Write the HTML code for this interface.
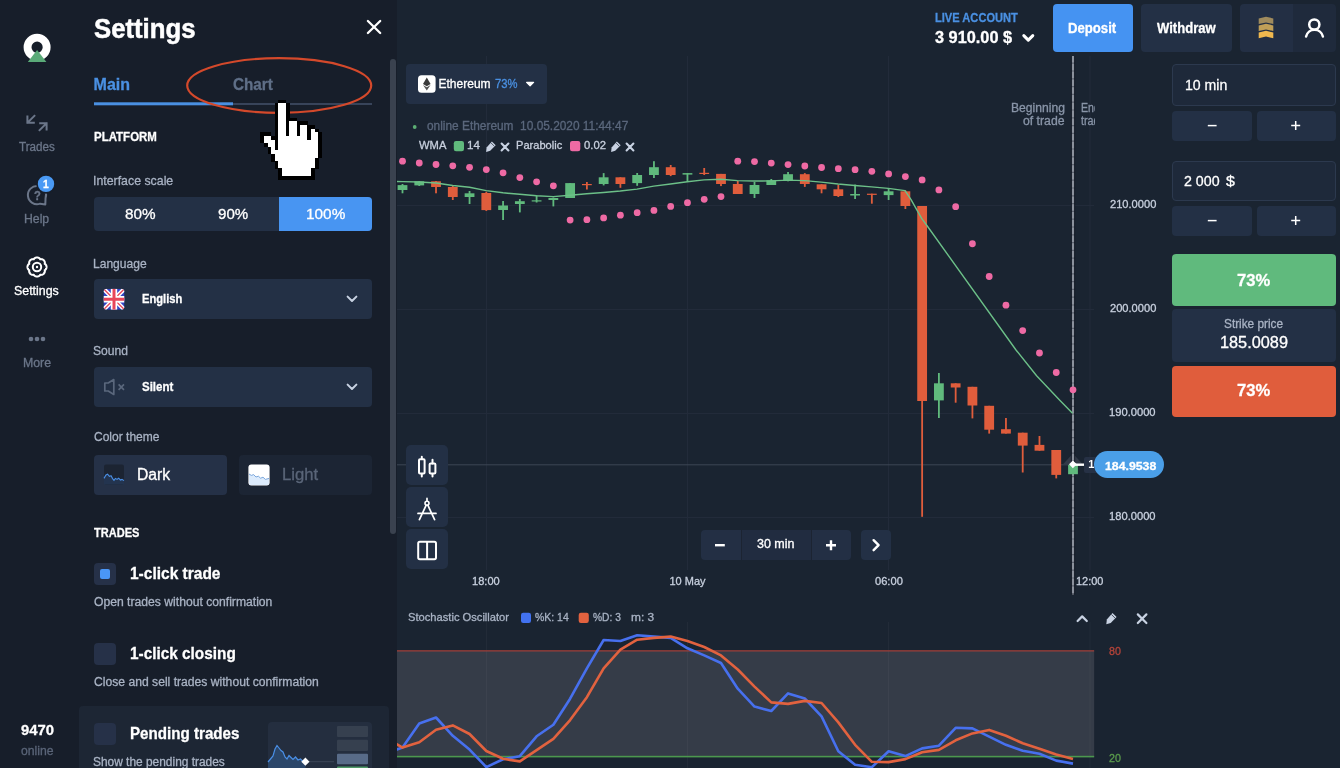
<!DOCTYPE html>
<html lang="en">
<head>
<meta charset="utf-8">
<title>Settings</title>
<style>
*{box-sizing:border-box;margin:0;padding:0}
html,body{width:1340px;height:768px;overflow:hidden;background:#1a2431}
body{position:relative;font-family:"Liberation Sans",sans-serif;color:#fff}
.abs{position:absolute}
.b{position:absolute;background:#233045;border-radius:4px}
.t{position:absolute;white-space:nowrap;line-height:1;transform-origin:0 0;display:inline-block;-webkit-text-stroke:.3px currentColor}
#side{left:0;top:0;width:396.5px;height:768px;background:#171e2a}
.inp{position:absolute;border:1px solid #2c394e;border-radius:4px;background:#1e293a}
.cb{position:absolute;width:22px;height:22px;border-radius:4px;background:#263148}
svg{overflow:visible}
</style>
</head>
<body>
<svg class="abs" style="left:0;top:0" width="1340" height="768" viewBox="0 0 1340 768">
<defs><clipPath id="cp"><rect x="396.5" y="56" width="698" height="712"/></clipPath></defs>
<g clip-path="url(#cp)">
<rect x="396" y="651" width="698.3" height="106" fill="#353c48"/>
<rect x="486.0" y="56" width="1" height="514" fill="#222b3a"/>
<rect x="486.0" y="622" width="1" height="146" fill="#fff" opacity=".035"/>
<rect x="687.0" y="56" width="1" height="514" fill="#222b3a"/>
<rect x="687.0" y="622" width="1" height="146" fill="#fff" opacity=".035"/>
<rect x="888.0" y="56" width="1" height="514" fill="#222b3a"/>
<rect x="888.0" y="622" width="1" height="146" fill="#fff" opacity=".035"/>
<rect x="1089.5" y="56" width="1" height="514" fill="#222b3a"/>
<rect x="1089.5" y="622" width="1" height="146" fill="#fff" opacity=".035"/>
<rect x="396" y="205.0" width="698" height="1" fill="#222b3a"/>
<rect x="396" y="309.0" width="698" height="1" fill="#222b3a"/>
<rect x="396" y="413.0" width="698" height="1" fill="#222b3a"/>
<rect x="396" y="517.0" width="698" height="1" fill="#222b3a"/>
<rect x="396" y="464.3" width="698" height="1" fill="#3d4655"/>
<rect x="396" y="650.2" width="698.3" height="1.3" fill="#9c3f3a"/>
<rect x="396" y="755.8" width="698.3" height="1.6" fill="#4c984e"/>
</g>
<path d="M1062.6 464.8L1072.9 453.6L1083.2 464.8Z" fill="#323a48"/>
<rect x="1070.8" y="56" width="4.4" height="538.5" fill="#151b27" opacity=".75"/>
<rect x="1072" y="56" width="2" height="538.5" fill="#5d636f"/>
<line x1="1073" y1="56" x2="1073" y2="594.5" stroke="#8b919c" stroke-width="2.1" stroke-dasharray="6.6 1.2"/>
<g clip-path="url(#cp)">
<rect x="401.6" y="184" width="1.8" height="9.3" fill="#60ba7d"/>
<rect x="397.6" y="185.1" width="9.8" height="4.9" fill="#60ba7d"/>
<rect x="418.36" y="181" width="1.8" height="5" fill="#60ba7d"/>
<rect x="414.36" y="181.3" width="9.8" height="4.1" fill="#60ba7d"/>
<rect x="435.12" y="181" width="1.8" height="12.3" fill="#e05d3c"/>
<rect x="431.12" y="181.3" width="9.8" height="5.7" fill="#e05d3c"/>
<rect x="451.89" y="186" width="1.8" height="14" fill="#e05d3c"/>
<rect x="447.89" y="187" width="9.8" height="10" fill="#e05d3c"/>
<rect x="468.65" y="191" width="1.8" height="13" fill="#60ba7d"/>
<rect x="464.65" y="193.3" width="9.8" height="3.7" fill="#60ba7d"/>
<rect x="485.41" y="191.8" width="1.8" height="19.1" fill="#e05d3c"/>
<rect x="481.41" y="193" width="9.8" height="17.1" fill="#e05d3c"/>
<rect x="502.18" y="201" width="1.8" height="19" fill="#60ba7d"/>
<rect x="498.18" y="205.5" width="9.8" height="4.5" fill="#60ba7d"/>
<rect x="518.94" y="199" width="1.8" height="13.4" fill="#60ba7d"/>
<rect x="514.94" y="201.2" width="9.8" height="2.8" fill="#60ba7d"/>
<rect x="535.7" y="195.5" width="1.8" height="7" fill="#60ba7d"/>
<rect x="531.7" y="200.3" width="9.8" height="1.2" fill="#60ba7d"/>
<rect x="552.46" y="197.5" width="1.8" height="8.9" fill="#60ba7d"/>
<rect x="548.46" y="198" width="9.8" height="2" fill="#60ba7d"/>
<rect x="569.23" y="183.1" width="1.8" height="14.9" fill="#60ba7d"/>
<rect x="565.23" y="183.1" width="9.8" height="14.9" fill="#60ba7d"/>
<rect x="585.99" y="182" width="1.8" height="7.5" fill="#e05d3c"/>
<rect x="581.99" y="184" width="9.8" height="1.2" fill="#e05d3c"/>
<rect x="602.75" y="173.1" width="1.8" height="12.3" fill="#60ba7d"/>
<rect x="598.75" y="177.3" width="9.8" height="6.7" fill="#60ba7d"/>
<rect x="619.51" y="177.3" width="1.8" height="10.5" fill="#e05d3c"/>
<rect x="615.51" y="177.3" width="9.8" height="6.7" fill="#e05d3c"/>
<rect x="636.27" y="173" width="1.8" height="12.8" fill="#60ba7d"/>
<rect x="632.27" y="175" width="9.8" height="8.1" fill="#60ba7d"/>
<rect x="653.04" y="161.2" width="1.8" height="16.8" fill="#60ba7d"/>
<rect x="649.04" y="167.2" width="9.8" height="7.8" fill="#60ba7d"/>
<rect x="669.8" y="165" width="1.8" height="11.1" fill="#e05d3c"/>
<rect x="665.8" y="167.2" width="9.8" height="7.8" fill="#e05d3c"/>
<rect x="686.56" y="173.1" width="1.8" height="7.9" fill="#60ba7d"/>
<rect x="682.56" y="173.1" width="9.8" height="1.5" fill="#60ba7d"/>
<rect x="703.32" y="168" width="1.8" height="7" fill="#e05d3c"/>
<rect x="699.32" y="172.8" width="9.8" height="1.2" fill="#e05d3c"/>
<rect x="720.09" y="173.9" width="1.8" height="12.2" fill="#e05d3c"/>
<rect x="716.09" y="173.9" width="9.8" height="10.1" fill="#e05d3c"/>
<rect x="736.85" y="181" width="1.8" height="13" fill="#e05d3c"/>
<rect x="732.85" y="184" width="9.8" height="10" fill="#e05d3c"/>
<rect x="753.61" y="182" width="1.8" height="16" fill="#60ba7d"/>
<rect x="749.61" y="185" width="9.8" height="9" fill="#60ba7d"/>
<rect x="770.38" y="179" width="1.8" height="6" fill="#60ba7d"/>
<rect x="766.38" y="180.3" width="9.8" height="4.7" fill="#60ba7d"/>
<rect x="787.14" y="172" width="1.8" height="9.3" fill="#60ba7d"/>
<rect x="783.14" y="174.2" width="9.8" height="6.8" fill="#60ba7d"/>
<rect x="803.9" y="173.1" width="1.8" height="13.8" fill="#e05d3c"/>
<rect x="799.9" y="174.2" width="9.8" height="9.8" fill="#e05d3c"/>
<rect x="820.66" y="184.3" width="1.8" height="9" fill="#e05d3c"/>
<rect x="816.66" y="184.3" width="9.8" height="5" fill="#e05d3c"/>
<rect x="837.43" y="184.8" width="1.8" height="12.2" fill="#e05d3c"/>
<rect x="833.43" y="189.3" width="9.8" height="6.7" fill="#e05d3c"/>
<rect x="854.19" y="184.6" width="1.8" height="14.4" fill="#60ba7d"/>
<rect x="850.19" y="194" width="9.8" height="1.5" fill="#60ba7d"/>
<rect x="870.95" y="193.7" width="1.8" height="10" fill="#e05d3c"/>
<rect x="866.95" y="193.7" width="9.8" height="1.2" fill="#e05d3c"/>
<rect x="887.71" y="188.5" width="1.8" height="11.5" fill="#60ba7d"/>
<rect x="883.71" y="191.3" width="9.8" height="3.8" fill="#60ba7d"/>
<rect x="904.48" y="190.3" width="1.8" height="18.7" fill="#e05d3c"/>
<rect x="900.48" y="191.3" width="9.8" height="14.7" fill="#e05d3c"/>
<rect x="921.24" y="206" width="1.8" height="310.8" fill="#e05d3c"/>
<rect x="917.24" y="206" width="9.8" height="195" fill="#e05d3c"/>
<rect x="938" y="373" width="1.8" height="45" fill="#60ba7d"/>
<rect x="934" y="383.3" width="9.8" height="17.1" fill="#60ba7d"/>
<rect x="954.76" y="383.3" width="1.8" height="19.4" fill="#e05d3c"/>
<rect x="950.76" y="383.3" width="9.8" height="4.2" fill="#e05d3c"/>
<rect x="971.52" y="386.8" width="1.8" height="31.6" fill="#e05d3c"/>
<rect x="967.52" y="386.8" width="9.8" height="18.7" fill="#e05d3c"/>
<rect x="988.29" y="405.8" width="1.8" height="27.8" fill="#e05d3c"/>
<rect x="984.29" y="405.8" width="9.8" height="23.9" fill="#e05d3c"/>
<rect x="1005.05" y="418" width="1.8" height="15.6" fill="#e05d3c"/>
<rect x="1001.05" y="429.2" width="9.8" height="4.4" fill="#e05d3c"/>
<rect x="1021.81" y="432.7" width="1.8" height="39.8" fill="#e05d3c"/>
<rect x="1017.81" y="432.7" width="9.8" height="12.9" fill="#e05d3c"/>
<rect x="1038.57" y="436" width="1.8" height="14.7" fill="#e05d3c"/>
<rect x="1034.57" y="444.9" width="9.8" height="5.8" fill="#e05d3c"/>
<rect x="1055.34" y="450" width="1.8" height="28.4" fill="#e05d3c"/>
<rect x="1051.34" y="450" width="9.8" height="24.9" fill="#e05d3c"/>
<rect x="1072.1" y="464.8" width="1.8" height="9.4" fill="#60ba7d"/>
<rect x="1068.1" y="464.8" width="9.8" height="9.4" fill="#60ba7d"/>
<polyline points="396,181.5 402.5,181.6 419.25,182 436,183 452.75,185.5 469.5,187.3 486.25,190.6 503,192.8 519.75,194.3 536.5,195.8 553.25,196.6 570,195.2 586.75,193.7 603.5,192.5 620.25,191 637,189.1 653.75,186.1 670.5,184 687.25,181.8 704,179.9 720.75,179.3 737.5,180.6 754.25,181 771,180.9 787.75,180.1 804.5,180.6 821.25,182.1 838,184 854.75,185.5 871.5,186.9 888.25,188.4 905,190.6 910.9,199.3 921.8,218.7 927.25,226 1016,350 1036.6,375.8 1060,400.4 1072.5,413.3" fill="none" stroke="#6cc088" stroke-width="1.4" stroke-linejoin="round"/>
<circle cx="402.5" cy="161.2" r="3.4" fill="#ee6aa4"/>
<circle cx="419.26" cy="163" r="3.4" fill="#ee6aa4"/>
<circle cx="436.02" cy="164.5" r="3.4" fill="#ee6aa4"/>
<circle cx="452.79" cy="165.8" r="3.4" fill="#ee6aa4"/>
<circle cx="469.55" cy="167.3" r="3.4" fill="#ee6aa4"/>
<circle cx="486.31" cy="169.6" r="3.4" fill="#ee6aa4"/>
<circle cx="503.07" cy="172.8" r="3.4" fill="#ee6aa4"/>
<circle cx="519.84" cy="177.6" r="3.4" fill="#ee6aa4"/>
<circle cx="536.6" cy="181.8" r="3.4" fill="#ee6aa4"/>
<circle cx="553.36" cy="185.8" r="3.4" fill="#ee6aa4"/>
<circle cx="570.12" cy="220.1" r="3.4" fill="#ee6aa4"/>
<circle cx="586.89" cy="219.7" r="3.4" fill="#ee6aa4"/>
<circle cx="603.65" cy="217.9" r="3.4" fill="#ee6aa4"/>
<circle cx="620.41" cy="215.2" r="3.4" fill="#ee6aa4"/>
<circle cx="637.17" cy="212.7" r="3.4" fill="#ee6aa4"/>
<circle cx="653.94" cy="210.4" r="3.4" fill="#ee6aa4"/>
<circle cx="670.7" cy="206.4" r="3.4" fill="#ee6aa4"/>
<circle cx="687.46" cy="202.7" r="3.4" fill="#ee6aa4"/>
<circle cx="704.22" cy="199.3" r="3.4" fill="#ee6aa4"/>
<circle cx="720.99" cy="196.6" r="3.4" fill="#ee6aa4"/>
<circle cx="737.75" cy="161.2" r="3.4" fill="#ee6aa4"/>
<circle cx="754.51" cy="161.6" r="3.4" fill="#ee6aa4"/>
<circle cx="771.27" cy="163.1" r="3.4" fill="#ee6aa4"/>
<circle cx="788.04" cy="164.6" r="3.4" fill="#ee6aa4"/>
<circle cx="804.8" cy="166" r="3.4" fill="#ee6aa4"/>
<circle cx="821.56" cy="167.5" r="3.4" fill="#ee6aa4"/>
<circle cx="838.33" cy="168.7" r="3.4" fill="#ee6aa4"/>
<circle cx="855.09" cy="169.7" r="3.4" fill="#ee6aa4"/>
<circle cx="871.85" cy="171.3" r="3.4" fill="#ee6aa4"/>
<circle cx="888.61" cy="173.9" r="3.4" fill="#ee6aa4"/>
<circle cx="905.38" cy="176.6" r="3.4" fill="#ee6aa4"/>
<circle cx="922.14" cy="179.9" r="3.4" fill="#ee6aa4"/>
<circle cx="938.9" cy="189.9" r="3.4" fill="#ee6aa4"/>
<circle cx="955.66" cy="206.7" r="3.4" fill="#ee6aa4"/>
<circle cx="972.42" cy="243.75" r="3.4" fill="#ee6aa4"/>
<circle cx="989.19" cy="276.5" r="3.4" fill="#ee6aa4"/>
<circle cx="1005.95" cy="305.2" r="3.4" fill="#ee6aa4"/>
<circle cx="1022.71" cy="330.6" r="3.4" fill="#ee6aa4"/>
<circle cx="1039.47" cy="353" r="3.4" fill="#ee6aa4"/>
<circle cx="1056.24" cy="372.5" r="3.4" fill="#ee6aa4"/>
<circle cx="1073" cy="389.8" r="3.4" fill="#ee6aa4"/>
<polyline points="390,752 402.5,747.6 419.26,723.5 436.02,717.5 452.79,735.8 469.55,749.6 486.31,767.1 503.07,759.3 519.84,756.2 536.6,736.3 553.36,724.8 570.12,698.7 586.89,668.4 603.65,640 620.41,641 637.17,635.3 653.94,636.6 670.7,637.9 687.46,648.3 704.22,655.4 720.99,663 737.75,688.7 754.51,706.6 771.27,711 788.04,693.4 804.8,698.5 821.56,716.4 838.33,751.3 855.09,764.8 871.85,767.2 888.61,751.3 905.38,756.1 922.14,748.4 938.9,745.7 955.66,727.8 972.42,728.4 989.19,736.7 1005.95,744.8 1022.71,750.7 1039.47,753.7 1056.24,760.6 1073,763.6" fill="none" stroke="#4770ee" stroke-width="2.6" stroke-linejoin="round"/>
<polyline points="390,740 402.5,747.6 419.26,742.3 436.02,729.8 452.79,725.4 469.55,734 486.31,751 503.07,758.8 519.84,761.4 536.6,750.2 553.36,738.9 570.12,720.1 586.89,697.2 603.65,668.4 620.41,649.6 637.17,639.7 653.94,637.9 670.7,636.6 687.46,641 704.22,647 720.99,655.4 737.75,669.5 754.51,686.6 771.27,702.4 788.04,703.9 804.8,700.9 821.56,703 838.33,722.4 855.09,744.8 871.85,761.8 888.61,762.1 905.38,759.1 922.14,752.2 938.9,749.9 955.66,740.3 972.42,733.4 989.19,729.9 1005.95,735.8 1022.71,743.3 1039.47,748.7 1056.24,754.6 1073,759.1" fill="none" stroke="#e2623f" stroke-width="2.6" stroke-linejoin="round"/>
</g>
<rect x="1073" y="463.5" width="11" height="2.4" fill="#fff"/>
<path d="M1072.9 460.4L1076.8 464.3L1072.9 468.2L1069 464.3Z" fill="#fff"/>
</svg>

<!-- left sidebar + settings panel background -->
<div class="abs" id="side"></div>
<div class="abs" style="left:390px;top:59px;width:6px;height:475px;border-radius:3px;background:#3a424f"></div>
<div class="abs" style="left:78.5px;top:705.5px;width:310px;height:70px;background:#1d2634;border-radius:4px 4px 0 0"></div>

<!-- sidebar + panel icons -->
<svg class="abs" style="left:0;top:0" width="400" height="768" viewBox="0 0 400 768" fill="none">
  <!-- logo -->
  <circle cx="37.1" cy="47.2" r="9.55" stroke="#fff" stroke-width="7.9"/>
  <path d="M37.1 50.1L46.4 62.1H27.8Z" fill="#5aaa78"/>
  <!-- trades arrows -->
  <g stroke="#6b7689" stroke-width="2" stroke-linecap="square">
    <path d="M34.4 115.8L27.6 122.6M27.4 116.4V122.8H33.8"/>
    <path d="M39.6 130.2L46.4 123.4M40.2 123.2H46.6V129.6"/>
  </g>
  <!-- help bubble -->
  <path d="M45.55 198.2L45.3 204.5L40.1 203.65A9.1 9.1 0 1 1 45.55 198.2Z" stroke="#6b7689" stroke-width="2" stroke-linejoin="round"/>
  <circle cx="46" cy="183.9" r="9.8" fill="#171e2a"/>
  <circle cx="46" cy="183.9" r="8.2" fill="#4a9af5"/>
  <!-- gear -->
  <g stroke="#fff" stroke-width="2">
    <path d="M37 257.45L37.37 257.47L37.75 257.52L38.11 257.61L38.47 257.74L38.81 257.9L39.14 258.09L39.45 258.32L39.73 258.58L39.99 258.89L40.18 259.33L40.62 259.15L41.02 259.12L41.41 259.13L41.79 259.19L42.16 259.28L42.51 259.41L42.85 259.58L43.17 259.77L43.48 260L43.75 260.25L44 260.52L44.23 260.83L44.42 261.15L44.59 261.49L44.72 261.84L44.81 262.21L44.87 262.59L44.88 262.98L44.85 263.38L44.67 263.82L45.11 264.01L45.42 264.27L45.68 264.55L45.91 264.86L46.1 265.19L46.26 265.53L46.39 265.89L46.48 266.25L46.53 266.63L46.55 267L46.53 267.37L46.48 267.75L46.39 268.11L46.26 268.47L46.1 268.81L45.91 269.14L45.68 269.45L45.42 269.73L45.11 269.99L44.67 270.18L44.85 270.62L44.88 271.02L44.87 271.41L44.81 271.79L44.72 272.16L44.59 272.51L44.42 272.85L44.23 273.17L44 273.48L43.75 273.75L43.48 274L43.17 274.23L42.85 274.42L42.51 274.59L42.16 274.72L41.79 274.81L41.41 274.87L41.02 274.88L40.62 274.85L40.18 274.67L39.99 275.11L39.73 275.42L39.45 275.68L39.14 275.91L38.81 276.1L38.47 276.26L38.11 276.39L37.75 276.48L37.37 276.53L37 276.55L36.63 276.53L36.25 276.48L35.89 276.39L35.53 276.26L35.19 276.1L34.86 275.91L34.55 275.68L34.27 275.42L34.01 275.11L33.82 274.67L33.38 274.85L32.98 274.88L32.59 274.87L32.21 274.81L31.84 274.72L31.49 274.59L31.15 274.42L30.83 274.23L30.52 274L30.25 273.75L30 273.48L29.77 273.17L29.58 272.85L29.41 272.51L29.28 272.16L29.19 271.79L29.13 271.41L29.12 271.02L29.15 270.62L29.33 270.18L28.89 269.99L28.58 269.73L28.32 269.45L28.09 269.14L27.9 268.81L27.74 268.47L27.61 268.11L27.52 267.75L27.47 267.37L27.45 267L27.47 266.63L27.52 266.25L27.61 265.89L27.74 265.53L27.9 265.19L28.09 264.86L28.32 264.55L28.58 264.27L28.89 264.01L29.33 263.82L29.15 263.38L29.12 262.98L29.13 262.59L29.19 262.21L29.28 261.84L29.41 261.49L29.58 261.15L29.77 260.83L30 260.52L30.25 260.25L30.52 260L30.83 259.77L31.15 259.58L31.49 259.41L31.84 259.28L32.21 259.19L32.59 259.13L32.98 259.12L33.38 259.15L33.82 259.33L34.01 258.89L34.27 258.58L34.55 258.32L34.86 258.09L35.19 257.9L35.53 257.74L35.89 257.61L36.25 257.52L36.63 257.47Z" stroke-linejoin="round"/>
    <circle cx="37" cy="267" r="4.2"/>
  </g>
  <circle cx="37" cy="267" r="1.2" fill="#fff"/>
  <!-- more -->
  <g fill="#6b7689"><circle cx="31" cy="339" r="2.3"/><circle cx="37" cy="339" r="2.3"/><circle cx="43" cy="339" r="2.3"/></g>
  <!-- close X -->
  <path d="M367.9 21L380.2 33M380.2 21L367.9 33" stroke="#fff" stroke-width="2.3" stroke-linecap="round"/>
  <!-- tabs underline -->
  <rect x="94" y="103" width="278" height="2" fill="#38445a"/>
  <rect x="94" y="102.3" width="139" height="3" fill="#4a90e2"/>
  <!-- highlight ellipse -->
  <ellipse cx="279.2" cy="85.5" rx="92" ry="27.3" stroke="#d4492b" stroke-width="2.2"/>
</svg>


<!-- interface scale -->
<div class="b" style="left:94px;top:197px;width:278px;height:34px"></div>
<div class="abs" style="left:279px;top:197px;width:93px;height:34px;background:#4895f2;border-radius:0 4px 4px 0"></div>

<!-- language / sound dropdowns -->
<div class="b" style="left:94px;top:279px;width:278px;height:40px"></div>
<div class="b" style="left:94px;top:367px;width:278px;height:40px"></div>
<svg class="abs" style="left:0;top:0" width="400" height="768" viewBox="0 0 400 768" fill="none">
  <!-- UK flag -->
  <defs><clipPath id="fl"><rect x="103.5" y="288.7" width="21" height="21" rx="3.5"/></clipPath></defs>
  <g clip-path="url(#fl)">
    <rect x="103.5" y="288.7" width="21" height="21" fill="#3346c8"/>
    <path d="M103.5 288.7L124.5 309.7M124.5 288.7L103.5 309.7" stroke="#fff" stroke-width="4.2"/>
    <path d="M103.5 288.7L124.5 309.7M124.5 288.7L103.5 309.7" stroke="#e8465a" stroke-width="1.3"/>
    <path d="M114 288.7V309.7M103.5 299.2H124.5" stroke="#fff" stroke-width="6.4"/>
    <path d="M114 288.7V309.7M103.5 299.2H124.5" stroke="#e8465a" stroke-width="3"/>
  </g>
  <!-- chevrons -->
  <path d="M347.6 296.6L352 301L356.4 296.6" stroke="#c8d2e2" stroke-width="2" stroke-linecap="round" stroke-linejoin="round"/>
  <path d="M347.6 384.6L352 389L356.4 384.6" stroke="#c8d2e2" stroke-width="2" stroke-linecap="round" stroke-linejoin="round"/>
  <!-- speaker muted -->
  <path d="M104.8 383H108.2L113.8 379.6V394.4L108.2 391H104.8Z" stroke="#5a677c" stroke-width="1.7" stroke-linejoin="round"/>
  <path d="M118.6 384.4L124 389.8M124 384.4L118.6 389.8" stroke="#5a677c" stroke-width="1.7"/>
</svg>

<!-- colour theme -->
<div class="b" style="left:94px;top:455px;width:133px;height:40px;background:#253147"></div>
<div class="b" style="left:239px;top:455px;width:133px;height:40px;background:#1c2534"></div>
<svg class="abs" style="left:0;top:0" width="400" height="768" viewBox="0 0 400 768" fill="none">
  <rect x="104" y="464.6" width="20" height="20" rx="2" fill="#1c2432"/>
  <path d="M104 478.4L106 475L107.6 474.2L109.4 476.4L111 475.8L112.6 478.6L114 480.4L115.4 478.4L117 479.4L118.6 478.2L120.4 480L122 479.4L124 480.6V484.6H104Z" fill="#23344f"/>
  <path d="M104 478.4L106 475L107.6 474.2L109.4 476.4L111 475.8L112.6 478.6L114 480.4L115.4 478.4L117 479.4L118.6 478.2L120.4 480L122 479.4L124 480.6" stroke="#4a8fe6" stroke-width="1.1"/>
  <rect x="248.4" y="464.4" width="21.2" height="21.2" rx="3" fill="#fff"/>
  <path d="M249 474L251.4 475.4L253.6 474.6L256 477L258.4 476.2L260.6 478.2L263 477.2L265.4 479.4L269 478.4V483a2 2 0 0 1 -2 2H251a2 2 0 0 1 -2 -2Z" fill="#dcebfc"/>
  <path d="M249 474L251.4 475.4L253.6 474.6L256 477L258.4 476.2L260.6 478.2L263 477.2L265.4 479.4L269 478.4" stroke="#6e9ed8" stroke-width=".9"/>
</svg>

<!-- checkboxes -->
<div class="cb" style="left:94px;top:563px"></div>
<div class="abs" style="left:100px;top:569px;width:10.4px;height:10.4px;border-radius:2px;background:#4a96f5"></div>
<div class="cb" style="left:94px;top:643px"></div>
<div class="cb" style="left:94px;top:723px"></div>

<!-- pending preview -->
<div class="abs" style="left:268px;top:722px;width:104px;height:50px;background:#242e3f;border-radius:4px 4px 0 0"></div>
<svg class="abs" style="left:0;top:0" width="400" height="768" viewBox="0 0 400 768" fill="none">
  <rect x="337" y="726" width="31" height="11" rx="1" fill="#36404f"/>
  <rect x="337" y="739.7" width="31" height="11.3" rx="1" fill="#36404f"/>
  <rect x="337" y="753.8" width="31" height="10.4" rx="1" fill="#586b88"/>
  <rect x="337" y="766.4" width="31" height="6" rx="1" fill="#4f9a68"/>
  <rect x="268" y="761.2" width="66" height="1" fill="#3c4658"/>
  <path d="M268 762L270.5 759L273 756L275 749L277 745.5L279 748L281 750.5L283 752L285 757L287 759L289 755.5L291 757.5L293 759.5L295.5 757L298 760L300.5 759L303 761.5L305.5 761.7V768H268Z" fill="#2b4669"/>
  <path d="M268 762L270.5 759L273 756L275 749L277 745.5L279 748L281 750.5L283 752L285 757L287 759L289 755.5L291 757.5L293 759.5L295.5 757L298 760L300.5 759L303 761.5L305.5 761.7" stroke="#4a8fe6" stroke-width="1.2"/>
  <path d="M305.4 757.6L309.5 761.7L305.4 765.8L301.3 761.7Z" fill="#fff"/>
</svg>

<svg class="abs" style="left:0;top:0" width="400" height="200" viewBox="0 0 400 200" shape-rendering="crispEdges">
<rect x="278.4" y="99.7" width="7.54" height="3.92" fill="#000"/>
<rect x="274.78" y="103.32" width="3.92" height="3.92" fill="#000"/>
<rect x="278.4" y="103.32" width="7.54" height="3.92" fill="#fff"/>
<rect x="285.64" y="103.32" width="3.92" height="3.92" fill="#000"/>
<rect x="274.78" y="106.94" width="3.92" height="3.92" fill="#000"/>
<rect x="278.4" y="106.94" width="7.54" height="3.92" fill="#fff"/>
<rect x="285.64" y="106.94" width="3.92" height="3.92" fill="#000"/>
<rect x="274.78" y="110.56" width="3.92" height="3.92" fill="#000"/>
<rect x="278.4" y="110.56" width="7.54" height="3.92" fill="#fff"/>
<rect x="285.64" y="110.56" width="3.92" height="3.92" fill="#000"/>
<rect x="274.78" y="114.18" width="3.92" height="3.92" fill="#000"/>
<rect x="278.4" y="114.18" width="7.54" height="3.92" fill="#fff"/>
<rect x="285.64" y="114.18" width="3.92" height="3.92" fill="#000"/>
<rect x="274.78" y="117.8" width="3.92" height="3.92" fill="#000"/>
<rect x="278.4" y="117.8" width="7.54" height="3.92" fill="#fff"/>
<rect x="285.64" y="117.8" width="11.16" height="3.92" fill="#000"/>
<rect x="274.78" y="121.42" width="3.92" height="3.92" fill="#000"/>
<rect x="278.4" y="121.42" width="7.54" height="3.92" fill="#fff"/>
<rect x="285.64" y="121.42" width="3.92" height="3.92" fill="#000"/>
<rect x="289.26" y="121.42" width="7.54" height="3.92" fill="#fff"/>
<rect x="296.5" y="121.42" width="11.16" height="3.92" fill="#000"/>
<rect x="274.78" y="125.04" width="3.92" height="3.92" fill="#000"/>
<rect x="278.4" y="125.04" width="7.54" height="3.92" fill="#fff"/>
<rect x="285.64" y="125.04" width="3.92" height="3.92" fill="#000"/>
<rect x="289.26" y="125.04" width="7.54" height="3.92" fill="#fff"/>
<rect x="296.5" y="125.04" width="3.92" height="3.92" fill="#000"/>
<rect x="300.12" y="125.04" width="7.54" height="3.92" fill="#fff"/>
<rect x="307.36" y="125.04" width="7.54" height="3.92" fill="#000"/>
<rect x="274.78" y="128.66" width="3.92" height="3.92" fill="#000"/>
<rect x="278.4" y="128.66" width="7.54" height="3.92" fill="#fff"/>
<rect x="285.64" y="128.66" width="3.92" height="3.92" fill="#000"/>
<rect x="289.26" y="128.66" width="7.54" height="3.92" fill="#fff"/>
<rect x="296.5" y="128.66" width="3.92" height="3.92" fill="#000"/>
<rect x="300.12" y="128.66" width="7.54" height="3.92" fill="#fff"/>
<rect x="307.36" y="128.66" width="3.92" height="3.92" fill="#000"/>
<rect x="310.98" y="128.66" width="3.92" height="3.92" fill="#fff"/>
<rect x="314.6" y="128.66" width="3.92" height="3.92" fill="#000"/>
<rect x="260.3" y="132.28" width="11.16" height="3.92" fill="#000"/>
<rect x="274.78" y="132.28" width="3.92" height="3.92" fill="#000"/>
<rect x="278.4" y="132.28" width="7.54" height="3.92" fill="#fff"/>
<rect x="285.64" y="132.28" width="3.92" height="3.92" fill="#000"/>
<rect x="289.26" y="132.28" width="7.54" height="3.92" fill="#fff"/>
<rect x="296.5" y="132.28" width="3.92" height="3.92" fill="#000"/>
<rect x="300.12" y="132.28" width="7.54" height="3.92" fill="#fff"/>
<rect x="307.36" y="132.28" width="3.92" height="3.92" fill="#000"/>
<rect x="310.98" y="132.28" width="7.54" height="3.92" fill="#fff"/>
<rect x="318.22" y="132.28" width="3.92" height="3.92" fill="#000"/>
<rect x="260.3" y="135.9" width="3.92" height="3.92" fill="#000"/>
<rect x="263.92" y="135.9" width="7.54" height="3.92" fill="#fff"/>
<rect x="271.16" y="135.9" width="7.54" height="3.92" fill="#000"/>
<rect x="278.4" y="135.9" width="29.26" height="3.92" fill="#fff"/>
<rect x="307.36" y="135.9" width="3.92" height="3.92" fill="#000"/>
<rect x="310.98" y="135.9" width="7.54" height="3.92" fill="#fff"/>
<rect x="318.22" y="135.9" width="3.92" height="3.92" fill="#000"/>
<rect x="260.3" y="139.52" width="3.92" height="3.92" fill="#000"/>
<rect x="263.92" y="139.52" width="11.16" height="3.92" fill="#fff"/>
<rect x="274.78" y="139.52" width="3.92" height="3.92" fill="#000"/>
<rect x="278.4" y="139.52" width="40.12" height="3.92" fill="#fff"/>
<rect x="318.22" y="139.52" width="3.92" height="3.92" fill="#000"/>
<rect x="263.92" y="143.14" width="3.92" height="3.92" fill="#000"/>
<rect x="267.54" y="143.14" width="7.54" height="3.92" fill="#fff"/>
<rect x="274.78" y="143.14" width="3.92" height="3.92" fill="#000"/>
<rect x="278.4" y="143.14" width="40.12" height="3.92" fill="#fff"/>
<rect x="318.22" y="143.14" width="3.92" height="3.92" fill="#000"/>
<rect x="267.54" y="146.76" width="3.92" height="3.92" fill="#000"/>
<rect x="271.16" y="146.76" width="3.92" height="3.92" fill="#fff"/>
<rect x="274.78" y="146.76" width="3.92" height="3.92" fill="#000"/>
<rect x="278.4" y="146.76" width="40.12" height="3.92" fill="#fff"/>
<rect x="318.22" y="146.76" width="3.92" height="3.92" fill="#000"/>
<rect x="267.54" y="150.38" width="3.92" height="3.92" fill="#000"/>
<rect x="271.16" y="150.38" width="47.36" height="3.92" fill="#fff"/>
<rect x="318.22" y="150.38" width="3.92" height="3.92" fill="#000"/>
<rect x="271.16" y="154" width="3.92" height="3.92" fill="#000"/>
<rect x="274.78" y="154" width="43.74" height="3.92" fill="#fff"/>
<rect x="318.22" y="154" width="3.92" height="3.92" fill="#000"/>
<rect x="271.16" y="157.62" width="3.92" height="3.92" fill="#000"/>
<rect x="274.78" y="157.62" width="40.12" height="3.92" fill="#fff"/>
<rect x="314.6" y="157.62" width="3.92" height="3.92" fill="#000"/>
<rect x="274.78" y="161.24" width="3.92" height="3.92" fill="#000"/>
<rect x="278.4" y="161.24" width="36.5" height="3.92" fill="#fff"/>
<rect x="314.6" y="161.24" width="3.92" height="3.92" fill="#000"/>
<rect x="274.78" y="164.86" width="3.92" height="3.92" fill="#000"/>
<rect x="278.4" y="164.86" width="36.5" height="3.92" fill="#fff"/>
<rect x="314.6" y="164.86" width="3.92" height="3.92" fill="#000"/>
<rect x="278.4" y="168.48" width="3.92" height="3.92" fill="#000"/>
<rect x="282.02" y="168.48" width="29.26" height="3.92" fill="#fff"/>
<rect x="310.98" y="168.48" width="3.92" height="3.92" fill="#000"/>
<rect x="278.4" y="172.1" width="3.92" height="3.92" fill="#000"/>
<rect x="282.02" y="172.1" width="29.26" height="3.92" fill="#fff"/>
<rect x="310.98" y="172.1" width="3.92" height="3.92" fill="#000"/>
<rect x="278.4" y="175.72" width="36.5" height="3.92" fill="#000"/>
</svg>

<!-- header -->
<div class="abs" style="left:1053px;top:4px;width:80px;height:48px;border-radius:4px;background:#4593f2"></div>
<div class="b" style="left:1141px;top:4px;width:91px;height:48px"></div>
<div class="abs" style="left:1240px;top:4px;width:53px;height:48px;border-radius:4px 0 0 4px;background:#232f44"></div>
<div class="abs" style="left:1293px;top:4px;width:43px;height:48px;border-radius:0 4px 4px 0;background:#1f2a3c"></div>
<svg class="abs" style="left:900px;top:0" width="440" height="60" viewBox="900 0 440 60" fill="none">
  <path d="M1023.8 35.6L1028.3 40.1L1032.8 35.6" stroke="#fff" stroke-width="3" stroke-linecap="round" stroke-linejoin="round"/>
  <!-- rank chevrons -->
  <path d="M1258.7 18.4L1266 16.7L1273.3 18.4V24.1L1266 22.4L1258.7 24.1Z" fill="#a08b5d"/>
  <path d="M1258.7 25.4L1266 23.7L1273.3 25.4V31.1L1266 29.4L1258.7 31.1Z" fill="#c09f58"/>
  <path d="M1258.7 32.5L1266 30.8L1273.3 32.5V38.2L1266 36.5L1258.7 38.2Z" fill="#f0b84e"/>
  <!-- user -->
  <circle cx="1314.3" cy="24.6" r="5.1" stroke="#fff" stroke-width="2.5"/>
  <path d="M1306.1 36.6A8.6 8.6 0 0 1 1322.9 36.6" stroke="#fff" stroke-width="2.5" stroke-linecap="round"/>
</svg>

<!-- right trade panel -->
<div class="inp" style="left:1172px;top:64px;width:164px;height:42px"></div>
<div class="b" style="left:1172px;top:111px;width:80px;height:30px"></div>
<div class="b" style="left:1257px;top:111px;width:79px;height:30px"></div>
<div class="inp" style="left:1172px;top:161px;width:164px;height:40px"></div>
<div class="b" style="left:1172px;top:206px;width:80px;height:30px"></div>
<div class="b" style="left:1257px;top:206px;width:79px;height:30px"></div>
<div class="abs" style="left:1172px;top:254px;width:164px;height:51.5px;border-radius:4px;background:#60ba7d"></div>
<div class="b" style="left:1172px;top:309.3px;width:164px;height:52.4px"></div>
<div class="abs" style="left:1172px;top:365.6px;width:164px;height:51.7px;border-radius:4px;background:#e05d3c"></div>
<svg class="abs" style="left:1160px;top:100px" width="180" height="150" viewBox="1160 100 180 150" fill="none" stroke="#fff" stroke-width="1.5">
  <path d="M1207.8 125.6H1216.6"/>
  <path d="M1291.2 125.6H1300.2M1295.7 121.1V130.1"/>
  <path d="M1207.8 220.6H1216.6"/>
  <path d="M1291.2 220.6H1300.2M1295.7 216.1V225.1"/>
</svg>

<!-- chart overlays -->
<div class="b" style="left:406px;top:64px;width:141px;height:40px"></div>
<svg class="abs" style="left:396px;top:56px" width="260" height="110" viewBox="396 56 260 110" fill="none">
  <rect x="418" y="75.2" width="17.6" height="17.6" rx="3.5" fill="#fff"/>
  <path d="M426.8 77.6L430.6 84L426.8 86.2L423 84Z" fill="#3a3a3a"/>
  <path d="M426.8 87.2L430.6 85L426.8 90.4L423 85Z" fill="#555"/>
  <path d="M526.6 82.4H533.6L530.1 85.8Z" fill="#fff" stroke="#fff" stroke-width="1.2" stroke-linejoin="round"/>
  <circle cx="414.7" cy="127" r="1.9" fill="#5cae74"/>
  <rect x="453.8" y="141" width="10.2" height="10.2" rx="2.2" fill="#60ba7d"/>
  <rect x="570" y="141" width="10.3" height="10.2" rx="2.2" fill="#ee6aa4"/>
  <g id="pen1" fill="#c8d2e2"><path d="M491.9 141.4L495.7 145.2L490.2 150.7L486.1 151.9L486.6 147.4Z"/><path d="M490.8 142.7L494.4 146.3" stroke="#1a2431" stroke-width=".7"/></g>
  <path d="M501.6 143.6L508.4 150.4M508.4 143.6L501.6 150.4" stroke="#c8d2e2" stroke-width="2.1" stroke-linecap="round"/>
  <g fill="#c8d2e2" transform="translate(125 0)"><path d="M491.9 141.4L495.7 145.2L490.2 150.7L486.1 151.9L486.6 147.4Z"/><path d="M490.8 142.7L494.4 146.3" stroke="#1a2431" stroke-width=".7"/></g>
  <path d="M626.6 143.6L633.4 150.4M633.4 143.6L626.6 150.4" stroke="#c8d2e2" stroke-width="2.1" stroke-linecap="round"/>
</svg>

<!-- "End of trade" label clipped by chart edge -->
<div class="abs" style="left:1081.2px;top:100px;width:13.4px;height:30px;overflow:hidden">
  <span class="t" style="left:0;top:2.2px;font-size:12px;color:#8995a8;transform:scaleX(.88)">End of</span>
  <span class="t" style="left:0;top:15.1px;font-size:12px;color:#8995a8;transform:scaleX(.9)">trade</span>
</div>

<!-- price tag -->
<div class="abs" style="left:1084px;top:456.6px;width:14px;height:16.6px;background:#263145;border-radius:2px 0 0 2px;overflow:hidden">
  <span class="t" style="left:4.2px;top:2.4px;font-size:11px;font-weight:700;color:#fff;-webkit-text-stroke:0">1</span>
</div>
<div class="abs" style="left:1094px;top:451.3px;width:70px;height:26.8px;border-radius:13.4px;background:#4a9fe8"></div>

<!-- chart tool buttons -->
<div class="b" style="left:406px;top:445px;width:42px;height:40px;border-radius:5px"></div>
<div class="b" style="left:406px;top:487.3px;width:42px;height:40px;border-radius:5px"></div>
<div class="b" style="left:406px;top:529.4px;width:42px;height:40px;border-radius:5px"></div>
<svg class="abs" style="left:400px;top:440px" width="60" height="135" viewBox="400 440 60 135" fill="none" stroke="#fff" stroke-width="2" stroke-linecap="round" stroke-linejoin="round">
  <rect x="419" y="459.2" width="5.6" height="14.4" rx="1"/>
  <path d="M421.8 456.8V459M421.8 474V476.4"/>
  <rect x="429.6" y="463.6" width="5.8" height="10" rx="1"/>
  <path d="M432.5 459.8V463.4M432.5 474V476.4"/>
  <circle cx="427" cy="503.2" r="2" stroke-width="1.6"/>
  <path d="M427 498.4V501M426.2 505.2L419.4 519.6M427.8 505.2L434.6 519.6M418 513.4H436" stroke-width="1.7"/>
  <rect x="418.2" y="541.8" width="17.8" height="17.4" rx="1.6"/>
  <path d="M427.1 542V559"/>
</svg>

<!-- zoom control -->
<div class="abs" style="left:701px;top:530px;width:150px;height:30px;border-radius:4px;background:#232f44"></div>
<div class="abs" style="left:740.5px;top:530px;width:71px;height:30px;background:#212c40;border-left:1px solid #1c2432;border-right:1px solid #1c2432"></div>
<div class="b" style="left:861px;top:530px;width:30px;height:30px"></div>
<svg class="abs" style="left:700px;top:525px" width="200" height="40" viewBox="700 525 200 40" fill="none" stroke="#fff" stroke-width="2.4">
  <path d="M715 545.2H724.8"/>
  <path d="M826 545.2H836M831 540.2V550.2"/>
  <path d="M873.6 540.2L878.6 545.2L873.6 550.2" stroke-linecap="round" stroke-linejoin="round"/>
</svg>

<!-- stochastic header icons -->
<svg class="abs" style="left:510px;top:605px" width="650" height="30" viewBox="510 605 650 30" fill="none">
  <rect x="521" y="612.7" width="10" height="10.2" rx="2.2" fill="#4272f0"/>
  <rect x="578.7" y="612.7" width="10.1" height="10.2" rx="2.2" fill="#e2623f"/>
  <path d="M1077.6 621L1082.2 616.4L1086.8 621" stroke="#c8d2e2" stroke-width="2.2" stroke-linecap="round" stroke-linejoin="round"/>
  <g fill="#c8d2e2" transform="translate(1106.3 613) scale(1.07) translate(-486.1 -141.4)"><path d="M491.9 141.4L495.7 145.2L490.2 150.7L486.1 151.9L486.6 147.4Z"/><path d="M490.8 142.7L494.4 146.3" stroke="#1a2431" stroke-width=".7"/></g>
  <path d="M1137.8 614.4L1146.4 623M1146.4 614.4L1137.8 623" stroke="#c8d2e2" stroke-width="2.2" stroke-linecap="round"/>
</svg>

<span class="t" style="left:19.02px;top:141px;font-size:12px;color:#6b7689;transform:scaleX(0.969);">Trades</span>
<span class="t" style="left:24.23px;top:213px;font-size:12px;color:#6b7689;transform:scaleX(1.020);">Help</span>
<span class="t" style="left:14.47px;top:285px;font-size:12px;color:#fff;transform:scaleX(1.032);">Settings</span>
<span class="t" style="left:22.92px;top:357px;font-size:12px;color:#6b7689;transform:scaleX(1.027);">More</span>
<span class="t" style="left:20.58px;top:723px;font-size:14px;color:#fff;font-weight:700;transform:scaleX(1.057);">9470</span>
<span class="t" style="left:20.69px;top:744px;font-size:13px;color:#5a6578;transform:scaleX(0.938);">online</span>
<span class="t" style="left:42.65px;top:179px;font-size:11px;color:#fff;font-weight:700;transform:scaleX(0.937);">1</span>
<span class="t" style="left:33.69px;top:190px;font-size:12px;color:#6b7689;font-weight:700;transform:scaleX(0.932);">?</span>
<span class="t" style="left:93.75px;top:15px;font-size:28px;color:#fff;font-weight:700;transform:scaleX(0.919);-webkit-text-stroke:.55px currentColor;">Settings</span>
<span class="t" style="left:93.61px;top:77px;font-size:16px;color:#4a90e2;font-weight:700;">Main</span>
<span class="t" style="left:232.8px;top:77px;font-size:16px;color:#5f6f87;font-weight:700;transform:scaleX(0.953);">Chart</span>
<span class="t" style="left:93.52px;top:130px;font-size:13px;color:#fff;font-weight:700;transform:scaleX(0.883);">PLATFORM</span>
<span class="t" style="left:92.97px;top:174px;font-size:13px;color:#a9b3c4;transform:scaleX(0.949);">Interface scale</span>
<span class="t" style="left:124.88px;top:206px;font-size:15px;color:#fff;transform:scaleX(1.020);">80%</span>
<span class="t" style="left:217.92px;top:206px;font-size:15px;color:#fff;transform:scaleX(1.005);">90%</span>
<span class="t" style="left:305.62px;top:206px;font-size:15px;color:#fff;transform:scaleX(1.024);">100%</span>
<span class="t" style="left:93.19px;top:257px;font-size:13px;color:#a9b3c4;transform:scaleX(0.927);">Language</span>
<span class="t" style="left:141.53px;top:292px;font-size:13px;color:#fff;font-weight:700;transform:scaleX(0.860);">English</span>
<span class="t" style="left:93.42px;top:344px;font-size:13px;color:#a9b3c4;transform:scaleX(0.931);">Sound</span>
<span class="t" style="left:141.64px;top:380px;font-size:13px;color:#fff;font-weight:700;transform:scaleX(0.884);">Silent</span>
<span class="t" style="left:93.62px;top:430px;font-size:13px;color:#a9b3c4;transform:scaleX(0.925);">Color theme</span>
<span class="t" style="left:136.88px;top:467px;font-size:16px;color:#fff;transform:scaleX(0.982);">Dark</span>
<span class="t" style="left:281.82px;top:467px;font-size:16px;color:#5a6578;transform:scaleX(1.041);">Light</span>
<span class="t" style="left:93.95px;top:526px;font-size:13px;color:#fff;font-weight:700;transform:scaleX(0.851);">TRADES</span>
<span class="t" style="left:129.96px;top:565px;font-size:17px;color:#fff;font-weight:700;transform:scaleX(0.912);">1-click trade</span>
<span class="t" style="left:93.65px;top:596px;font-size:12px;color:#a9b3c4;transform:scaleX(1.013);">Open trades without confirmation</span>
<span class="t" style="left:130.07px;top:645px;font-size:17px;color:#fff;font-weight:700;transform:scaleX(0.903);">1-click closing</span>
<span class="t" style="left:93.63px;top:676px;font-size:12px;color:#a9b3c4;transform:scaleX(1.012);">Close and sell trades without confirmation</span>
<span class="t" style="left:129.66px;top:725px;font-size:17px;color:#fff;font-weight:700;transform:scaleX(0.891);">Pending trades</span>
<span class="t" style="left:93.4px;top:756px;font-size:12px;color:#a9b3c4;transform:scaleX(0.993);">Show the pending trades</span>
<span class="t" style="left:934.57px;top:12px;font-size:12px;color:#4a90e2;font-weight:700;transform:scaleX(0.925);">LIVE ACCOUNT</span>
<span class="t" style="left:934.66px;top:30px;font-size:16px;color:#fff;font-weight:700;transform:scaleX(1.020);">3 910.00 $</span>
<span class="t" style="left:1068.39px;top:21px;font-size:14px;color:#fff;font-weight:700;transform:scaleX(0.938);">Deposit</span>
<span class="t" style="left:1156.95px;top:21px;font-size:14px;color:#fff;font-weight:700;transform:scaleX(0.934);">Withdraw</span>
<span class="t" style="left:1184.61px;top:77px;font-size:15px;color:#fff;transform:scaleX(0.940);">10 min</span>
<span class="t" style="left:1184.41px;top:173px;font-size:15px;color:#fff;transform:scaleX(0.949);">2 000</span>
<span class="t" style="left:1226.2px;top:173px;font-size:15px;color:#fff;transform:scaleX(1.065);">$</span>
<span class="t" style="left:1237px;top:272px;font-size:17px;color:#fff;font-weight:700;transform:scaleX(0.976);">73%</span>
<span class="t" style="left:1224.2px;top:318px;font-size:12px;color:#a9b3c4;transform:scaleX(0.984);">Strike price</span>
<span class="t" style="left:1219.89px;top:335px;font-size:16px;color:#fff;transform:scaleX(1.018);">185.0089</span>
<span class="t" style="left:1237px;top:382px;font-size:17px;color:#fff;font-weight:700;transform:scaleX(0.976);">73%</span>
<span class="t" style="left:438.54px;top:78px;font-size:12px;color:#fff;">Ethereum</span>
<span class="t" style="left:495.13px;top:78px;font-size:12px;color:#4a90e2;transform:scaleX(0.936);">73%</span>
<span class="t" style="left:426.5px;top:120px;font-size:12px;color:#5a677c;transform:scaleX(0.990);">online Ethereum &nbsp;10.05.2020 11:44:47</span>
<span class="t" style="left:418.72px;top:140px;font-size:11px;color:#c8d0de;transform:scaleX(1.017);">WMA</span>
<span class="t" style="left:467.43px;top:140px;font-size:11px;color:#c8d0de;transform:scaleX(1.052);">14</span>
<span class="t" style="left:515.7px;top:140px;font-size:11px;color:#c8d0de;transform:scaleX(1.008);">Parabolic</span>
<span class="t" style="left:583.62px;top:140px;font-size:11px;color:#c8d0de;transform:scaleX(1.023);">0.02</span>
<span class="t" style="left:1011.24px;top:102px;font-size:12px;color:#8995a8;transform:scaleX(1.010);">Beginning</span>
<span class="t" style="left:1023.39px;top:115px;font-size:12px;color:#8995a8;transform:scaleX(1.020);">of trade</span>
<span class="t" style="left:1109.71px;top:199px;font-size:11px;color:#c8d0de;transform:scaleX(1.010);">210.0000</span>
<span class="t" style="left:1109.71px;top:303px;font-size:11px;color:#c8d0de;transform:scaleX(1.010);">200.0000</span>
<span class="t" style="left:1109.45px;top:407px;font-size:11px;color:#c8d0de;transform:scaleX(1.015);">190.0000</span>
<span class="t" style="left:1109.45px;top:511px;font-size:11px;color:#c8d0de;transform:scaleX(1.015);">180.0000</span>
<span class="t" style="left:1104.57px;top:461px;font-size:11.5px;color:#fff;font-weight:700;transform:scaleX(1.069);">184.9538</span>
<span class="t" style="left:472.36px;top:576px;font-size:11px;color:#c8d0de;transform:scaleX(1.006);">18:00</span>
<span class="t" style="left:669.46px;top:576px;font-size:11px;color:#c8d0de;">10 May</span>
<span class="t" style="left:874.52px;top:576px;font-size:11px;color:#c8d0de;transform:scaleX(1.011);">06:00</span>
<span class="t" style="left:1076.07px;top:576px;font-size:11px;color:#c8d0de;transform:scaleX(0.995);">12:00</span>
<span class="t" style="left:756.87px;top:538px;font-size:12px;color:#fff;transform:scaleX(1.041);">30 min</span>
<span class="t" style="left:408.37px;top:612px;font-size:11px;color:#a9b3c4;transform:scaleX(1.014);">Stochastic Oscillator</span>
<span class="t" style="left:535.28px;top:612px;font-size:11px;color:#a9b3c4;transform:scaleX(0.952);">%K: 14</span>
<span class="t" style="left:593.28px;top:612px;font-size:11px;color:#a9b3c4;transform:scaleX(0.929);">%D: 3</span>
<span class="t" style="left:630.54px;top:612px;font-size:11px;color:#a9b3c4;transform:scaleX(1.084);">m: 3</span>
<span class="t" style="left:1109.11px;top:646px;font-size:11px;color:#b4443a;transform:scaleX(0.974);">80</span>
<span class="t" style="left:1109.12px;top:753px;font-size:11px;color:#5b9c4c;transform:scaleX(0.973);">20</span>
</body>
</html>
